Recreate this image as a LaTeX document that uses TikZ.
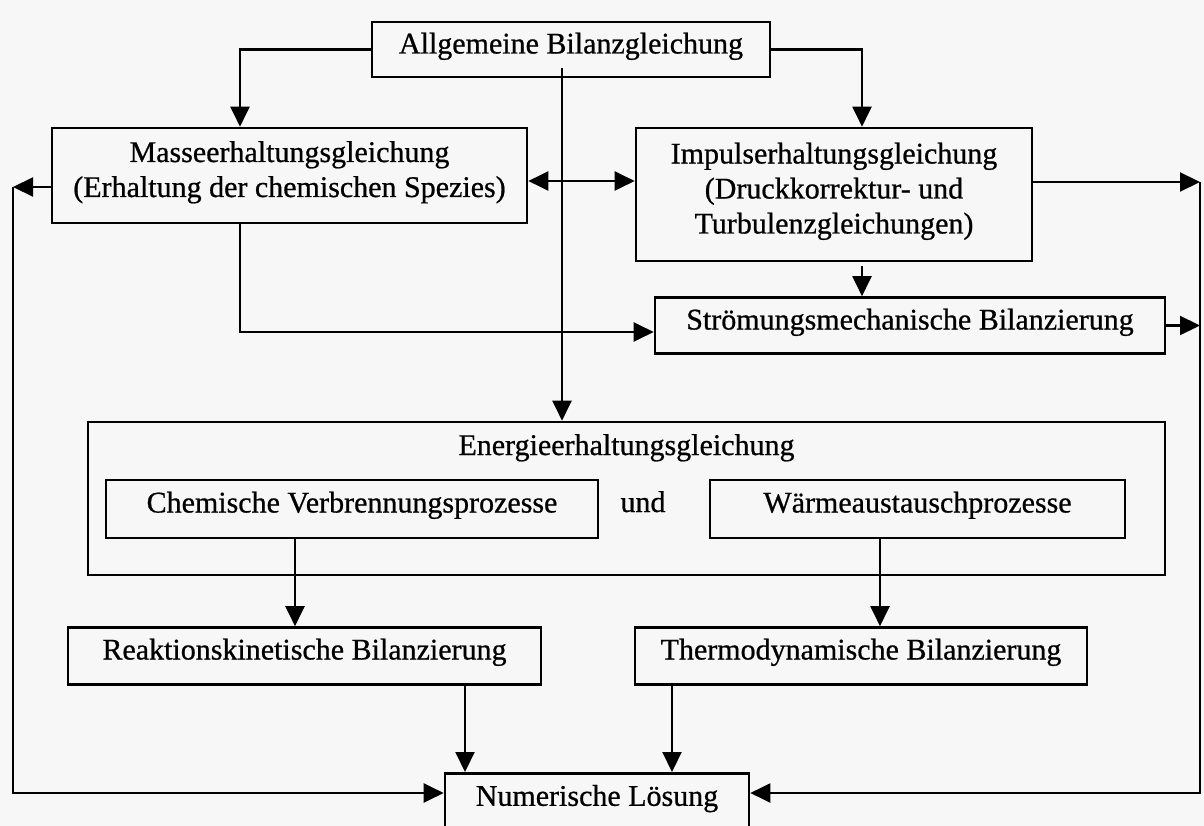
\documentclass[tikz,border=0pt]{standalone}
\usepackage{fontspec}
\setmainfont{Liberation Serif}
\newfontfamily\dfont{Liberation Serif}[FakeBold=0.7]
\usetikzlibrary{arrows.meta}
\begin{document}
\begin{tikzpicture}[x=1pt,y=-1pt,
  tip/.tip={Triangle[length=20pt,width=19pt]},
  box/.style={draw, line width=2.6pt, inner sep=0pt, align=center,
    font=\dfont\fontsize{30}{35}\selectfont, text height=21pt},
  txt/.style={inner sep=0pt, font=\dfont\fontsize{30}{35}\selectfont, text height=21pt, text depth=7pt},
  ln/.style={line width=2.1pt},
  arr/.style={ln, -tip},
  dbl/.style={ln, tip-tip}]
\useasboundingbox (0,0) rectangle (1204,826);
\fill[black!3] (0,0) rectangle (1204,826);
\clip (0,0) rectangle (1204,826);

% boxes
\node[box, minimum width=398pt, minimum height=55pt, text depth=13pt] (alg) at (571,49.5) {Allgemeine Bilanzgleichung};
\node[box, minimum width=475pt, minimum height=95pt, text height=56pt, text depth=13pt] (masse) at (289.5,175.5)
  {Masseerhaltungsgleichung\\(Erhaltung der chemischen Spezies)};
\node[box, minimum width=396pt, minimum height=133pt, text height=91pt, text depth=13pt] (impuls) at (834,194.5)
  {Impulserhaltungsgleichung\\(Druckkorrektur- und\\Turbulenzgleichungen)};
\node[box, minimum width=510pt, minimum height=56pt, text depth=13pt] (stroem) at (910,325.5) {Strömungsmechanische Bilanzierung};
\node[box, minimum width=1077pt, minimum height=153pt] (energie) at (626.5,498.5) {};
\node[txt, anchor=base] (etitle) at (626.5,455) {Energieerhaltungsgleichung};
\node[box, minimum width=492pt, minimum height=58pt, text depth=14pt] (chem) at (352,509) {Chemische Verbrennungsprozesse};
\node[txt, anchor=base] (und) at (643,512) {und};
\node[box, minimum width=415pt, minimum height=58pt, text depth=14pt] (waerme) at (917.5,509) {Wärmeaustauschprozesse};
\node[box, minimum width=473pt, minimum height=57pt, text depth=14pt] (reak) at (304.5,656) {Reaktionskinetische Bilanzierung};
\node[box, minimum width=452pt, minimum height=57pt, text depth=14pt] (thermo) at (861,656) {Thermodynamische Bilanzierung};
\node[box, anchor=north, minimum width=304pt, minimum height=70pt, text depth=26pt] (num) at (597,772) {Numerische Lösung};

% helper coordinates
\coordinate (xm) at (240,0);
\coordinate (xi) at (862,0);
\coordinate (xc) at (295,0);
\coordinate (xw) at (880,0);
\coordinate (xr) at (465,0);
\coordinate (xt) at (672,0);
\coordinate (v0) at (562,68);
\coordinate (ydbl) at (0,181);
\coordinate (ys) at (0,332);
\coordinate (yb) at (0,793);
\coordinate (lft) at (13,187);
\coordinate (rgt) at (1200,182);

% connectors
\draw[arr] (alg.west) -| (masse.north -| xm);
\draw[arr] (alg.east) -| (impuls.north -| xi);
\draw[arr] (v0) -- (energie.north -| v0);
\draw[dbl] (masse.east |- ydbl) -- (impuls.west |- ydbl);
\draw[arr] (masse.west |- lft) -- (lft);
\draw[arr] (lft) |- (num.west |- yb);
\draw[arr] (impuls.east |- rgt) -- (rgt);
\draw[arr] (stroem.east) -- (stroem.east -| rgt);
\draw[arr] (rgt) |- (num.east |- yb);
\draw[arr] (masse.south -| xm) |- (stroem.west |- ys);
\draw[arr, shorten <=4pt] (impuls.south -| xi) -- (stroem.north -| xi);
\draw[arr] (chem.south -| xc) -- (reak.north -| xc);
\draw[arr] (waerme.south -| xw) -- (thermo.north -| xw);
\draw[arr] (reak.south -| xr) -- (num.north -| xr);
\draw[arr] (thermo.south -| xt) -- (num.north -| xt);
\end{tikzpicture}
\end{document}
